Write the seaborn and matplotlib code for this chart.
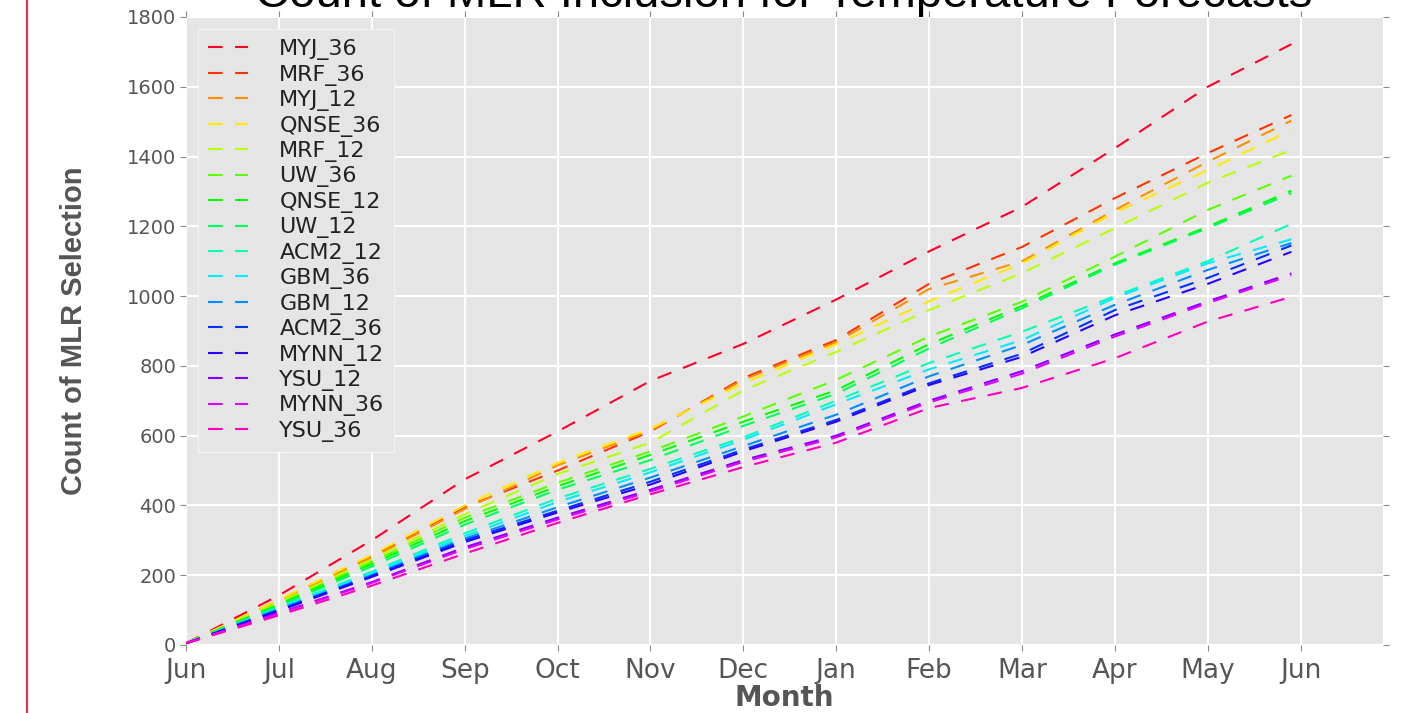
import numpy as np
import pandas as pd
import matplotlib
matplotlib.use("Agg")
import matplotlib.pyplot as plt
import seaborn as sns
from matplotlib.lines import Line2D

# readings at each month tick (Jun .. May) plus the last day of the record
month_labels = ["Jun", "Jul", "Aug", "Sep", "Oct", "Nov", "Dec",
                "Jan", "Feb", "Mar", "Apr", "May", "Jun"]
sample_days = [0, 30.4, 60.8, 91.3, 121.7, 152.1, 182.5,
               212.9, 243.3, 273.8, 304.2, 334.6, 362]

models = ["MYJ_36", "MRF_36", "MYJ_12", "QNSE_36", "MRF_12", "UW_36",
          "QNSE_12", "UW_12", "ACM2_12", "GBM_36", "GBM_12", "ACM2_36",
          "MYNN_12", "YSU_12", "MYNN_36", "YSU_36"]

MYJ_36 = [5, 142, 300, 475, 612, 757, 863, 990, 1128, 1256, 1424, 1600, 1722]
MRF_36 = [5, 128, 255, 395, 500, 612, 765, 874, 1035, 1141, 1281, 1410, 1519]
MYJ_12 = [5, 126, 250, 390, 515, 615, 760, 868, 1020, 1100, 1247, 1385, 1503]
QNSE_36 = [5, 130, 258, 400, 522, 620, 750, 862, 985, 1094, 1240, 1361, 1476]
MRF_12 = [5, 122, 245, 375, 490, 580, 730, 840, 960, 1066, 1195, 1325, 1419]
UW_36 = [5, 118, 238, 365, 465, 555, 655, 760, 884, 984, 1113, 1247, 1345]
QNSE_12 = [5, 115, 232, 355, 455, 545, 640, 730, 862, 972, 1094, 1199, 1302]
UW_12 = [5, 112, 225, 345, 445, 530, 628, 720, 850, 965, 1090, 1195, 1295]
ACM2_12 = [5, 108, 210, 320, 420, 505, 595, 700, 808, 898, 1000, 1100, 1207]
GBM_36 = [5, 105, 205, 312, 410, 495, 588, 690, 790, 874, 995, 1094, 1163]
GBM_12 = [5, 103, 200, 305, 395, 480, 570, 660, 770, 860, 975, 1075, 1152]
ACM2_36 = [5, 100, 198, 300, 385, 468, 560, 645, 750, 835, 960, 1052, 1145]
MYNN_12 = [5, 98, 195, 295, 380, 460, 555, 640, 745, 826, 945, 1035, 1127]
YSU_12 = [5, 92, 180, 280, 365, 445, 530, 600, 700, 785, 890, 985, 1065]
MYNN_36 = [5, 90, 178, 275, 360, 440, 525, 595, 695, 778, 884, 980, 1060]
YSU_36 = [5, 85, 170, 262, 350, 432, 510, 580, 679, 737, 822, 927, 998]

series = [MYJ_36, MRF_36, MYJ_12, QNSE_36, MRF_12, UW_36, QNSE_12, UW_12,
          ACM2_12, GBM_36, GBM_12, ACM2_36, MYNN_12, YSU_12, MYNN_36, YSU_36]

sns.set_style("darkgrid", {
    "axes.facecolor": "#E5E5E5",
    "grid.color": "white",
    "axes.edgecolor": "#E5E5E5",
    "xtick.bottom": True,
    "ytick.left": True,
})
plt.rcParams["font.family"] = ["DejaVu Sans"]

colors = plt.cm.gist_rainbow(np.linspace(0, 1, len(models)))

fig = plt.figure(figsize=(14.12, 7.13), dpi=100)
ax = fig.add_axes([186 / 1412, 1 - 645 / 713, (1383 - 186) / 1412, (645 - 17) / 713])

for name, vals, c in zip(models, series, colors):
    df = pd.DataFrame({"day": sample_days, "count": vals})
    sns.lineplot(data=df, x="day", y="count", ax=ax, color=c, label=name,
                 linewidth=1.5, linestyle=(0, (7, 6)))

month_ticks = [k * 365 / 12 for k in range(13)]
ax.set_xlim(0, 392)
ax.set_ylim(0, 1800)
ax.set_xticks(month_ticks)
ax.set_xticklabels(month_labels)
ax.set_yticks(range(0, 1801, 200))
ax.grid(True, color="white", linewidth=1.5)

ax.tick_params(axis="both", which="both", direction="out", length=4,
               color="#888888", top=True, right=True, labelcolor="#555555")
ax.tick_params(axis="x", labelsize=19, pad=5)
ax.tick_params(axis="y", labelsize=14, pad=3)
for s in ax.spines.values():
    s.set_visible(False)

ax.set_xlabel("Month", fontsize=20, fontweight="bold", color="#555555", labelpad=0)
ax.set_ylabel("Count of MLR Selection", fontsize=21, fontweight="bold",
              color="#555555", labelpad=28,
              family=["Liberation Sans", "DejaVu Sans"])

leg = ax.legend(loc="upper left", fontsize=16, handlelength=1.8,
                handletextpad=1.4, labelspacing=0.2, borderpad=0.45,
                borderaxespad=0.55, frameon=True, fancybox=False,
                facecolor="#E5E5E5", edgecolor="#F2F2F2", framealpha=1)
for t in leg.get_texts():
    t.set_color("#222222")

fig.text(784 / 1412, 1 - 7 / 713, "Count of MLR Inclusion for Temperature Forecasts",
         ha="center", va="baseline", fontsize=34,
         family=["Liberation Sans", "DejaVu Sans"], color="black")

fig.add_artist(Line2D([27 / 1412, 27 / 1412], [0, 1], transform=fig.transFigure,
                      color="#D9384A", linewidth=1.6))

fig.savefig("out.png", dpi=100)
